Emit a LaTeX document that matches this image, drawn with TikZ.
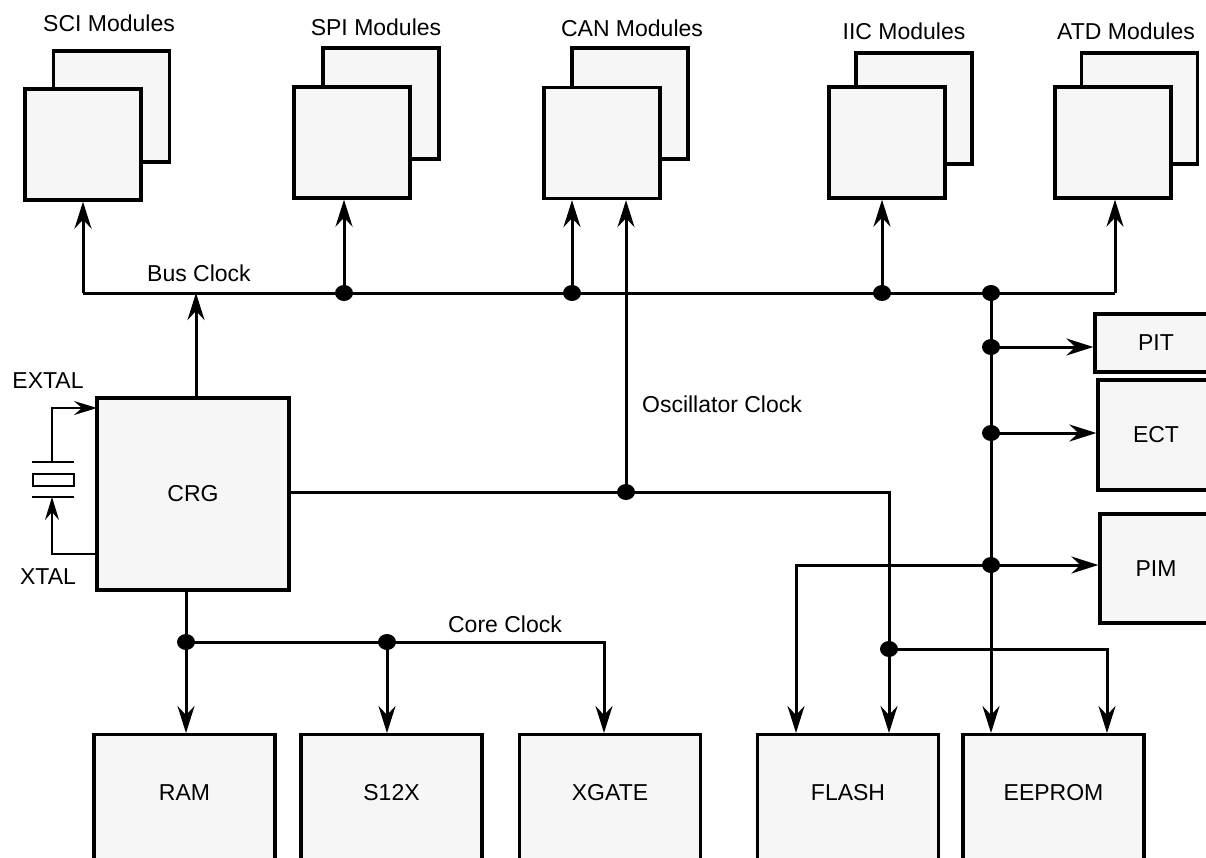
\documentclass[tikz,border=0pt]{standalone}
\usepackage{fontspec}
\setmainfont{Liberation Sans}
\usetikzlibrary{arrows.meta,calc,shapes.geometric}
\definecolor{boxfill}{RGB}{246,246,246}
\begin{document}
\begin{tikzpicture}[x=1pt,y=-1pt,
  box/.style={draw, line width=3.3pt, fill=boxfill, inner sep=0pt, font=\fontsize{23}{27}\selectfont},
  modbox/.style={box, minimum width=116pt, minimum height=111pt},
  membox/.style={box, minimum width=181pt, minimum height=150pt, anchor=north},
  lbl/.style={inner sep=0pt, font=\fontsize{23}{27}\selectfont},
  wire/.style={line width=3pt},
  arr/.style={wire, -{Stealth[length=27pt,width=17pt,inset=9pt]}},
  xwire/.style={line width=2.2pt},
  xarr/.style={xwire, -{Stealth[length=23pt,width=14pt,inset=8pt]}},
  dot/.style={ellipse, fill, inner sep=0pt, minimum width=18pt, minimum height=16pt}]
\useasboundingbox (0,0) rectangle (1206,857);
\clip (0,0) rectangle (1206,857);

% module stacks
\node[modbox] (sciB) at (111.5,106.5) {};
\node[modbox] (sciF) at (83,144.5) {};
\node[modbox] (spiB) at (381,103.5) {};
\node[modbox] (spiF) at (352,142.5) {};
\node[modbox] (canB) at (630,103.5) {};
\node[modbox] (canF) at (602,143) {};
\node[modbox] (iicB) at (914,108.5) {};
\node[modbox] (iicF) at (887,142.5) {};
\node[modbox] (atdB) at (1139.5,108.5) {};
\node[modbox] (atdF) at (1113,142.5) {};
\node[lbl] (sciL) at (109,23) {SCI Modules};
\node[lbl] (spiL) at (376,27) {SPI Modules};
\node[lbl] (canL) at (632,28) {CAN Modules};
\node[lbl] (iicL) at (904,31) {IIC Modules};
\node[lbl] (atdL) at (1126,31) {ATD Modules};

% CRG
\node[box, minimum width=192pt, minimum height=192pt] (crg) at (193,494) {CRG};
\node[lbl] (extal) at (48,381) {EXTAL};
\node[lbl] (xtal) at (48,577) {XTAL};

% right modules
\node[box, minimum width=122pt, minimum height=58pt] (pit) at (1156,343) {PIT};
\node[box, minimum width=116pt, minimum height=110pt] (ect) at (1156,435) {ECT};
\node[box, minimum width=112pt, minimum height=109pt] (pim) at (1156,568.5) {PIM};

% bottom modules
\node[membox] (ram) at (184.5,733) {};
\node[membox] (s12) at (391.5,733) {};
\node[membox] (xg) at (610,733) {};
\node[membox] (flash) at (848,733) {};
\node[membox] (ee) at (1053.5,733) {};
\node[lbl] at ($(ram.north)+(0,60)$) {RAM};
\node[lbl] at ($(s12.north)+(0,60)$) {S12X};
\node[lbl] at ($(xg.north)+(0,60)$) {XGATE};
\node[lbl] at ($(flash.north)+(0,60)$) {FLASH};
\node[lbl] at ($(ee.north)+(0,60)$) {EEPROM};

% clock labels
\node[lbl] (busclk) at (199,273) {Bus Clock};
\node[lbl] (oscclk) at (722,404) {Oscillator Clock};
\node[lbl] (coreclk) at (505,624) {Core Clock};

% coordinates
\coordinate (busL) at (83,293);
\coordinate (busR) at (1115,293);
\coordinate (crgTop) at (196,398);
\coordinate (fl1) at (796,733);
\coordinate (fl2) at (889,733);
\coordinate (ee1) at (991,733);
\coordinate (ee2) at (1107,733);
\coordinate (xg1) at (604,733);
\coordinate (xt1) at (52,462);
\coordinate (xt2) at (52,497);
\coordinate (ex1) at (97,408);
\coordinate (ex2) at (97,554);

% junction points
\coordinate (dSPI) at (344,293);
\coordinate (dCAN) at (572,293);
\coordinate (dIIC) at (882,293);
\coordinate (dV) at (991,293);
\coordinate (dPIT) at (991,347);
\coordinate (dECT) at (991,433);
\coordinate (dPIM) at (991,565);
\coordinate (dOsc) at (626,492);
\coordinate (dFE) at (889,649);
\coordinate (dRAM) at (186,642);
\coordinate (dS12) at (387,642);

% bus clock
\draw[wire] (busL) -- (busR);
\draw[arr] (busL) -- (busL |- sciF.south);
\draw[arr] (busR) -- (busR |- atdF.south);
\draw[arr] (dSPI) -- (dSPI |- spiF.south);
\draw[arr] (dCAN) -- (dCAN |- canF.south);
\draw[arr] (dIIC) -- (dIIC |- iicF.south);
\draw[arr] (crgTop) -- (crgTop |- busL);

% oscillator clock
\draw[arr] (crg.east |- dOsc) -| (fl2);
\draw[arr] (dOsc) -- (dOsc |- canF.south);
\draw[arr] (dFE) -| (ee2);

% vertical bus branch
\draw[arr] (dV) -- (ee1);
\draw[arr] (dPIT) -- (dPIT -| pit.west);
\draw[arr] (dECT) -- (dECT -| ect.west);
\draw[arr] (dPIM) -- (dPIM -| pim.west);
\draw[arr] (dPIM) -| (fl1);

% core clock
\draw[wire] (crg.south -| dRAM) -- (dRAM);
\draw[arr] (dRAM) -- (dRAM |- ram.north);
\draw[arr] (dRAM) -| (xg1);
\draw[arr] (dS12) -- (dS12 |- s12.north);

% crystal
\draw[xarr] (xt1) |- (ex1);
\draw[xarr] (ex2) -| (xt2);
\draw[xwire] (32,462) -- (74,462);
\draw[xwire, fill=white] (33,474) rectangle (74,486);
\draw[xwire] (32,497) -- (74,497);

% junction dots
\foreach \d in {dSPI,dCAN,dIIC,dV,dPIT,dECT,dPIM,dOsc,dFE,dRAM,dS12}
  \node[dot] at (\d) {};
\end{tikzpicture}
\end{document}
